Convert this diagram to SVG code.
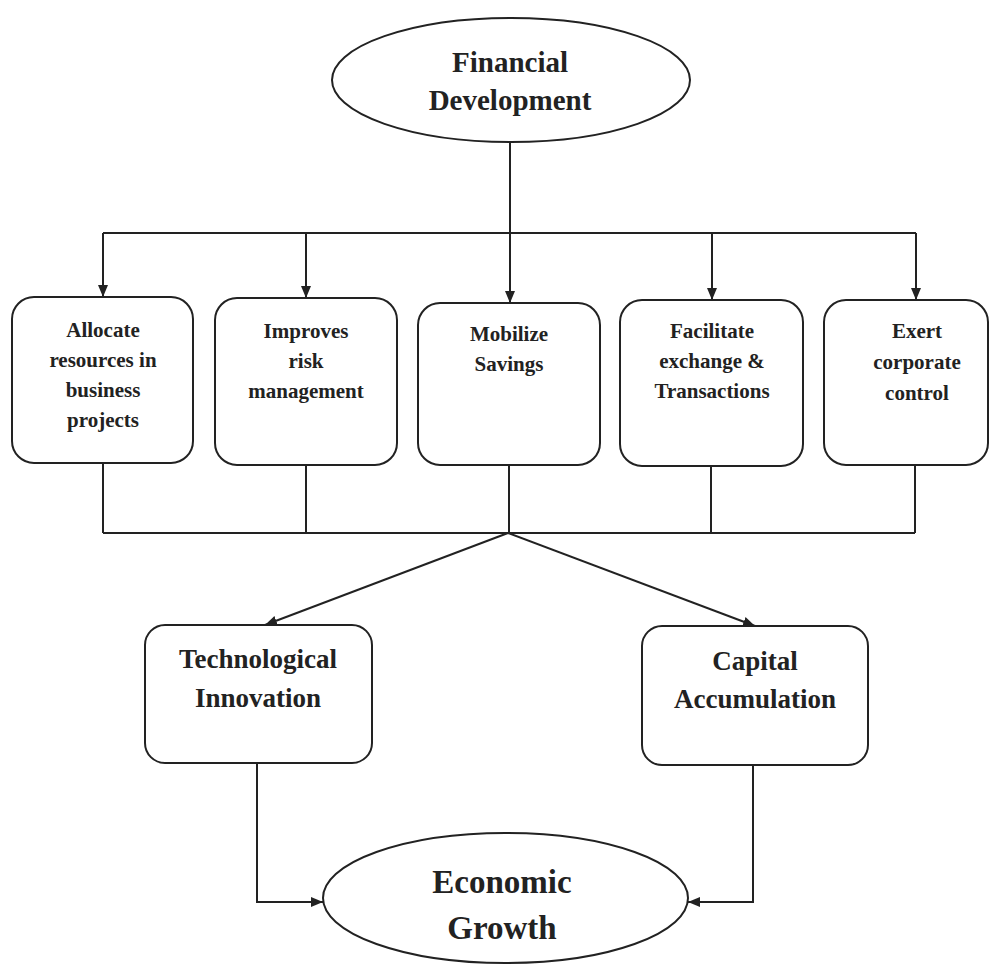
<svg xmlns="http://www.w3.org/2000/svg" width="995" height="964" viewBox="0 0 995 964">
<defs>
<marker id="ah" viewBox="0 0 12 10" refX="12" refY="5" markerWidth="12" markerHeight="10" markerUnits="userSpaceOnUse" orient="auto">
<path d="M0,0 L12,5 L0,10 Z" fill="#222"/>
</marker>
</defs>
<style>
.shape{fill:#fff;stroke:#222;stroke-width:2}
.ln{fill:none;stroke:#222;stroke-width:2}
.arr{fill:none;stroke:#222;stroke-width:2;marker-end:url(#ah)}
text{font-family:"Liberation Serif","Times New Roman",serif;font-weight:bold;fill:#222;text-anchor:middle}
.s{font-size:21px}
.m{font-size:27px}
.b{font-size:29px}
.xl{font-size:33px}
</style>
<rect width="995" height="964" fill="#fff"/>
<g id="connectors">
<line class="ln" x1="510" y1="142" x2="510" y2="233"/>
<line class="ln" x1="103" y1="233" x2="916" y2="233"/>
<line class="arr" x1="103" y1="233" x2="103" y2="297"/>
<line class="arr" x1="306" y1="233" x2="306" y2="298"/>
<line class="arr" x1="510" y1="233" x2="510" y2="303"/>
<line class="arr" x1="712" y1="233" x2="712" y2="300"/>
<line class="arr" x1="916" y1="233" x2="916" y2="300"/>
<line class="ln" x1="103" y1="463" x2="103" y2="533"/>
<line class="ln" x1="306" y1="465" x2="306" y2="533"/>
<line class="ln" x1="509" y1="465" x2="509" y2="533"/>
<line class="ln" x1="711" y1="466" x2="711" y2="533"/>
<line class="ln" x1="915" y1="465" x2="915" y2="533"/>
<line class="ln" x1="103" y1="533" x2="915" y2="533"/>
<line class="arr" x1="508" y1="533" x2="265" y2="625"/>
<line class="arr" x1="508" y1="533" x2="755" y2="626"/>
<polyline class="arr" points="257,763 257,902 323,902"/>
<polyline class="arr" points="753,765 753,902 688,902"/>
</g>
<g id="financial-development">
<ellipse class="shape" cx="511" cy="80" rx="179" ry="62"/>
<text class="b" x="510" y="72">Financial</text>
<text class="b" x="510" y="110">Development</text>
</g>
<g id="allocate">
<rect class="shape" x="12" y="297" width="181" height="166" rx="22"/>
<text class="s" x="103" y="337">Allocate</text>
<text class="s" x="103" y="367">resources in</text>
<text class="s" x="103" y="397">business</text>
<text class="s" x="103" y="427">projects</text>
</g>
<g id="risk">
<rect class="shape" x="215" y="298" width="182" height="167" rx="22"/>
<text class="s" x="306" y="338">Improves</text>
<text class="s" x="306" y="368">risk</text>
<text class="s" x="306" y="398">management</text>
</g>
<g id="savings">
<rect class="shape" x="418" y="303" width="182" height="162" rx="22"/>
<text class="s" x="509" y="341">Mobilize</text>
<text class="s" x="509" y="371">Savings</text>
</g>
<g id="exchange">
<rect class="shape" x="620" y="300" width="183" height="166" rx="22"/>
<text class="s" x="712" y="338">Facilitate</text>
<text class="s" x="712" y="368">exchange &amp;</text>
<text class="s" x="712" y="398">Transactions</text>
</g>
<g id="corporate">
<rect class="shape" x="824" y="300" width="164" height="165" rx="22"/>
<text class="s" x="917" y="338">Exert</text>
<text class="s" x="917" y="369">corporate</text>
<text class="s" x="917" y="400">control</text>
</g>
<g id="technological-innovation">
<rect class="shape" x="145" y="625" width="227" height="138" rx="20"/>
<text class="m" x="258" y="668">Technological</text>
<text class="m" x="258" y="707">Innovation</text>
</g>
<g id="capital-accumulation">
<rect class="shape" x="642" y="626" width="226" height="139" rx="20"/>
<text class="m" x="755" y="670">Capital</text>
<text class="m" x="755" y="708">Accumulation</text>
</g>
<g id="economic-growth">
<ellipse class="shape" cx="505.5" cy="898" rx="182.5" ry="65"/>
<text class="xl" x="502" y="893">Economic</text>
<text class="xl" x="502" y="939">Growth</text>
</g>
</svg>
